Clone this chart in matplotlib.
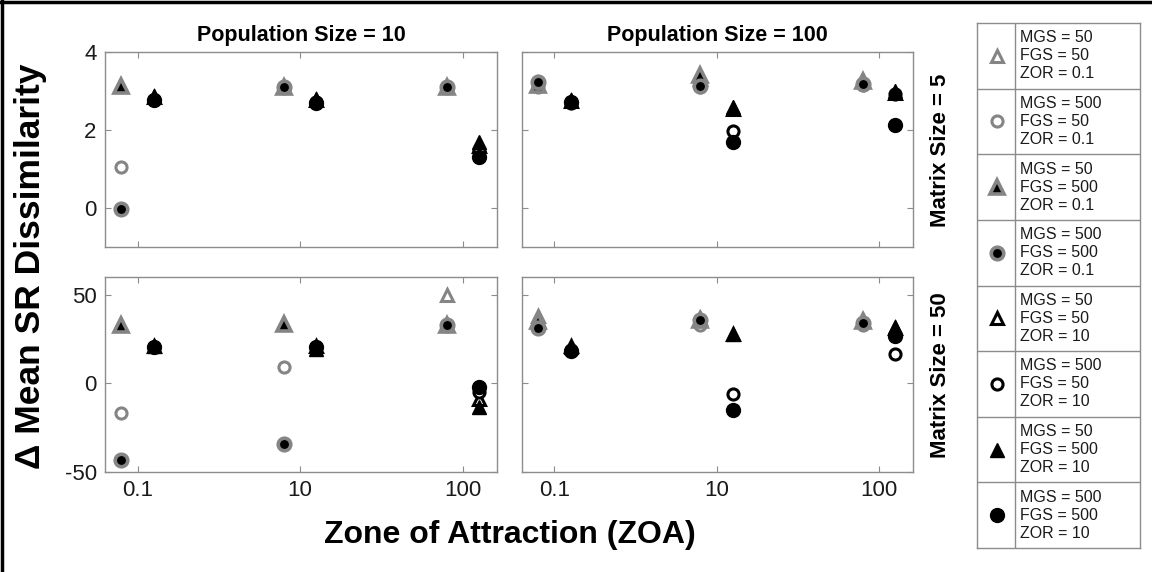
import matplotlib
matplotlib.use("Agg")
import matplotlib.pyplot as plt
from matplotlib.lines import Line2D
import numpy as np

plt.rcParams['font.family'] = ['Liberation Sans', 'DejaVu Sans']
plt.rcParams['axes.unicode_minus'] = False

# ---------------- data ----------------
zoa_labels = ["0.1", "10", "100"]
pop_sizes = ["10", "100"]
matrix_sizes = ["5", "50"]
series_mgs = ["50", "500", "50", "500", "50", "500", "50", "500"]
series_fgs = ["50", "50", "500", "500", "50", "50", "500", "500"]
series_zor = ["0.1", "0.1", "0.1", "0.1", "10", "10", "10", "10"]

# rows: series 1..8, columns: ZOA 0.1, 10, 100
pop10_mat5 = [
    [3.12, 3.10, 3.10],
    [1.05, 3.10, 3.10],
    [3.12, 3.10, 3.10],
    [-0.03, 3.10, 3.10],
    [2.85, 2.78, 1.58],
    [2.78, 2.72, 1.45],
    [2.86, 2.80, 1.68],
    [2.78, 2.70, 1.32],
]
pop100_mat5 = [
    [3.15, 3.30, 3.25],
    [3.10, 3.10, 3.15],
    [3.15, 3.40, 3.25],
    [3.22, 3.12, 3.17],
    [2.75, 2.55, 2.95],
    [2.70, 1.98, 2.93],
    [2.78, 2.58, 3.00],
    [2.71, 1.68, 2.12],
]
pop10_mat50 = [
    [33.0, 33.5, 50.0],
    [-16.5, 9.0, 33.0],
    [33.0, 33.5, 33.0],
    [-43.0, -34.0, 33.0],
    [21.0, 21.0, -9.0],
    [20.5, 20.5, -5.0],
    [21.0, 19.5, -13.5],
    [20.5, 20.5, -2.0],
]
pop100_mat50 = [
    [38.0, 37.0, 36.0],
    [32.0, 33.0, 33.0],
    [35.0, 36.0, 35.0],
    [31.0, 35.5, 34.0],
    [21.0, 28.0, 31.0],
    [19.0, -6.2, 16.5],
    [20.5, 28.0, 32.0],
    [18.0, -14.9, 26.5],
]

# ---------------- styles ----------------
GREY = '#858585'
BLACK = '#000000'
styles = [
    dict(marker='^', ms=9, mfc='white', mec=GREY, mew=2.2),
    dict(marker='o', ms=8, mfc='white', mec=GREY, mew=2.2),
    dict(marker='^', ms=9.5, mfc=BLACK, mec=GREY, mew=2.6),
    dict(marker='o', ms=9, mfc=BLACK, mec=GREY, mew=2.6),
    dict(marker='^', ms=9, mfc='white', mec=BLACK, mew=2.2),
    dict(marker='o', ms=8, mfc='white', mec=BLACK, mew=2.2),
    dict(marker='^', ms=10.5, mfc=BLACK, mec=BLACK, mew=1),
    dict(marker='o', ms=10, mfc=BLACK, mec=BLACK, mew=1),
]
offsets = [-0.1, -0.1, -0.1, -0.1, 0.1, 0.1, 0.1, 0.1]

SPINE = '#8c8c8c'
TXT = '#1a1a1a'

fig = plt.figure(figsize=(11.52, 5.72), dpi=100)
W, H = 1152, 572

def ax_rect(x0, x1, ytop, ybot):
    return [x0 / W, 1 - ybot / H, (x1 - x0) / W, (ybot - ytop) / H]

panels = [
    (pop10_mat5, ax_rect(105, 497, 52, 247), (-1, 4), [0, 2, 4], True, False),
    (pop100_mat5, ax_rect(522, 913, 52, 247), (-1, 4), [0, 2, 4], False, False),
    (pop10_mat50, ax_rect(105, 497, 277, 472), (-50, 60), [-50, 0, 50], True, True),
    (pop100_mat50, ax_rect(522, 913, 277, 472), (-50, 60), [-50, 0, 50], False, True),
]

cats = np.arange(1, len(zoa_labels) + 1)
axes = []
for data, rect, ylim, yticks, show_y, show_x in panels:
    ax = fig.add_axes(rect)
    axes.append(ax)
    for i, vals in enumerate(data):
        ax.plot(cats + offsets[i], vals, linestyle='none', zorder=3 + i, **styles[i])
    ax.set_xlim(0.8, 3.21)
    ax.set_ylim(*ylim)
    ax.set_xticks(cats)
    ax.set_yticks(yticks)
    ax.set_xticklabels(zoa_labels if show_x else [])
    if not show_y:
        ax.set_yticklabels([])
    ax.tick_params(direction='in', length=4, width=0.8, color=SPINE,
                   top=True, right=True, labelsize=16, labelcolor=TXT, pad=6)
    for sp in ax.spines.values():
        sp.set_color(SPINE)
        sp.set_linewidth(1.0)

# column titles
axes[0].set_title("Population Size = " + pop_sizes[0], fontsize=15.5, fontweight='bold', pad=8)
axes[1].set_title("Population Size = " + pop_sizes[1], fontsize=15.5, fontweight='bold', pad=8)

# row labels
fig.text(940 / W, 1 - 150 / H, "Matrix Size = " + matrix_sizes[0], rotation=90,
         ha='center', va='center', fontsize=16, fontweight='bold')
fig.text(940 / W, 1 - 375 / H, "Matrix Size = " + matrix_sizes[1], rotation=90,
         ha='center', va='center', fontsize=16, fontweight='bold')

# axis labels
fig.text(31 / W, 1 - 266 / H, "Δ Mean SR Dissimilarity", rotation=90,
         ha='center', va='center', fontsize=25.5, fontweight='bold')
fig.text(510 / W, 1 - 535 / H, "Zone of Attraction (ZOA)",
         ha='center', va='center', fontsize=23, fontweight='bold')

# legend table
lax = fig.add_axes(ax_rect(977, 1140, 23, 548))
n = len(styles)
lax.set_xlim(0, 1)
lax.set_ylim(n, 0)
lax.set_xticks([])
lax.set_yticks([])
for sp in lax.spines.values():
    sp.set_color(SPINE)
    sp.set_linewidth(1.0)
divx = (1015 - 977) / (1140 - 977)
lax.axvline(divx, color=SPINE, lw=1.0)
for i in range(n):
    if i > 0:
        lax.axhline(i, color=SPINE, lw=1.0)
    st = dict(styles[i])
    lax.plot([divx / 2 + 0.005], [i + 0.5], linestyle='none', **st)
    lax.text(divx + 0.03, i + 0.5,
             f"MGS = {series_mgs[i]}\nFGS = {series_fgs[i]}\nZOR = {series_zor[i]}",
             ha='left', va='center', fontsize=11.5, linespacing=1.25, color=TXT)

# figure frame lines (top and left)
fig.add_artist(Line2D([0, 1], [1 - 2 / H, 1 - 2 / H], color='black', lw=2.5,
                      transform=fig.transFigure))
fig.add_artist(Line2D([2 / W, 2 / W], [0, 1], color='black', lw=2.5,
                      transform=fig.transFigure))

fig.savefig("out.png", dpi=100)
